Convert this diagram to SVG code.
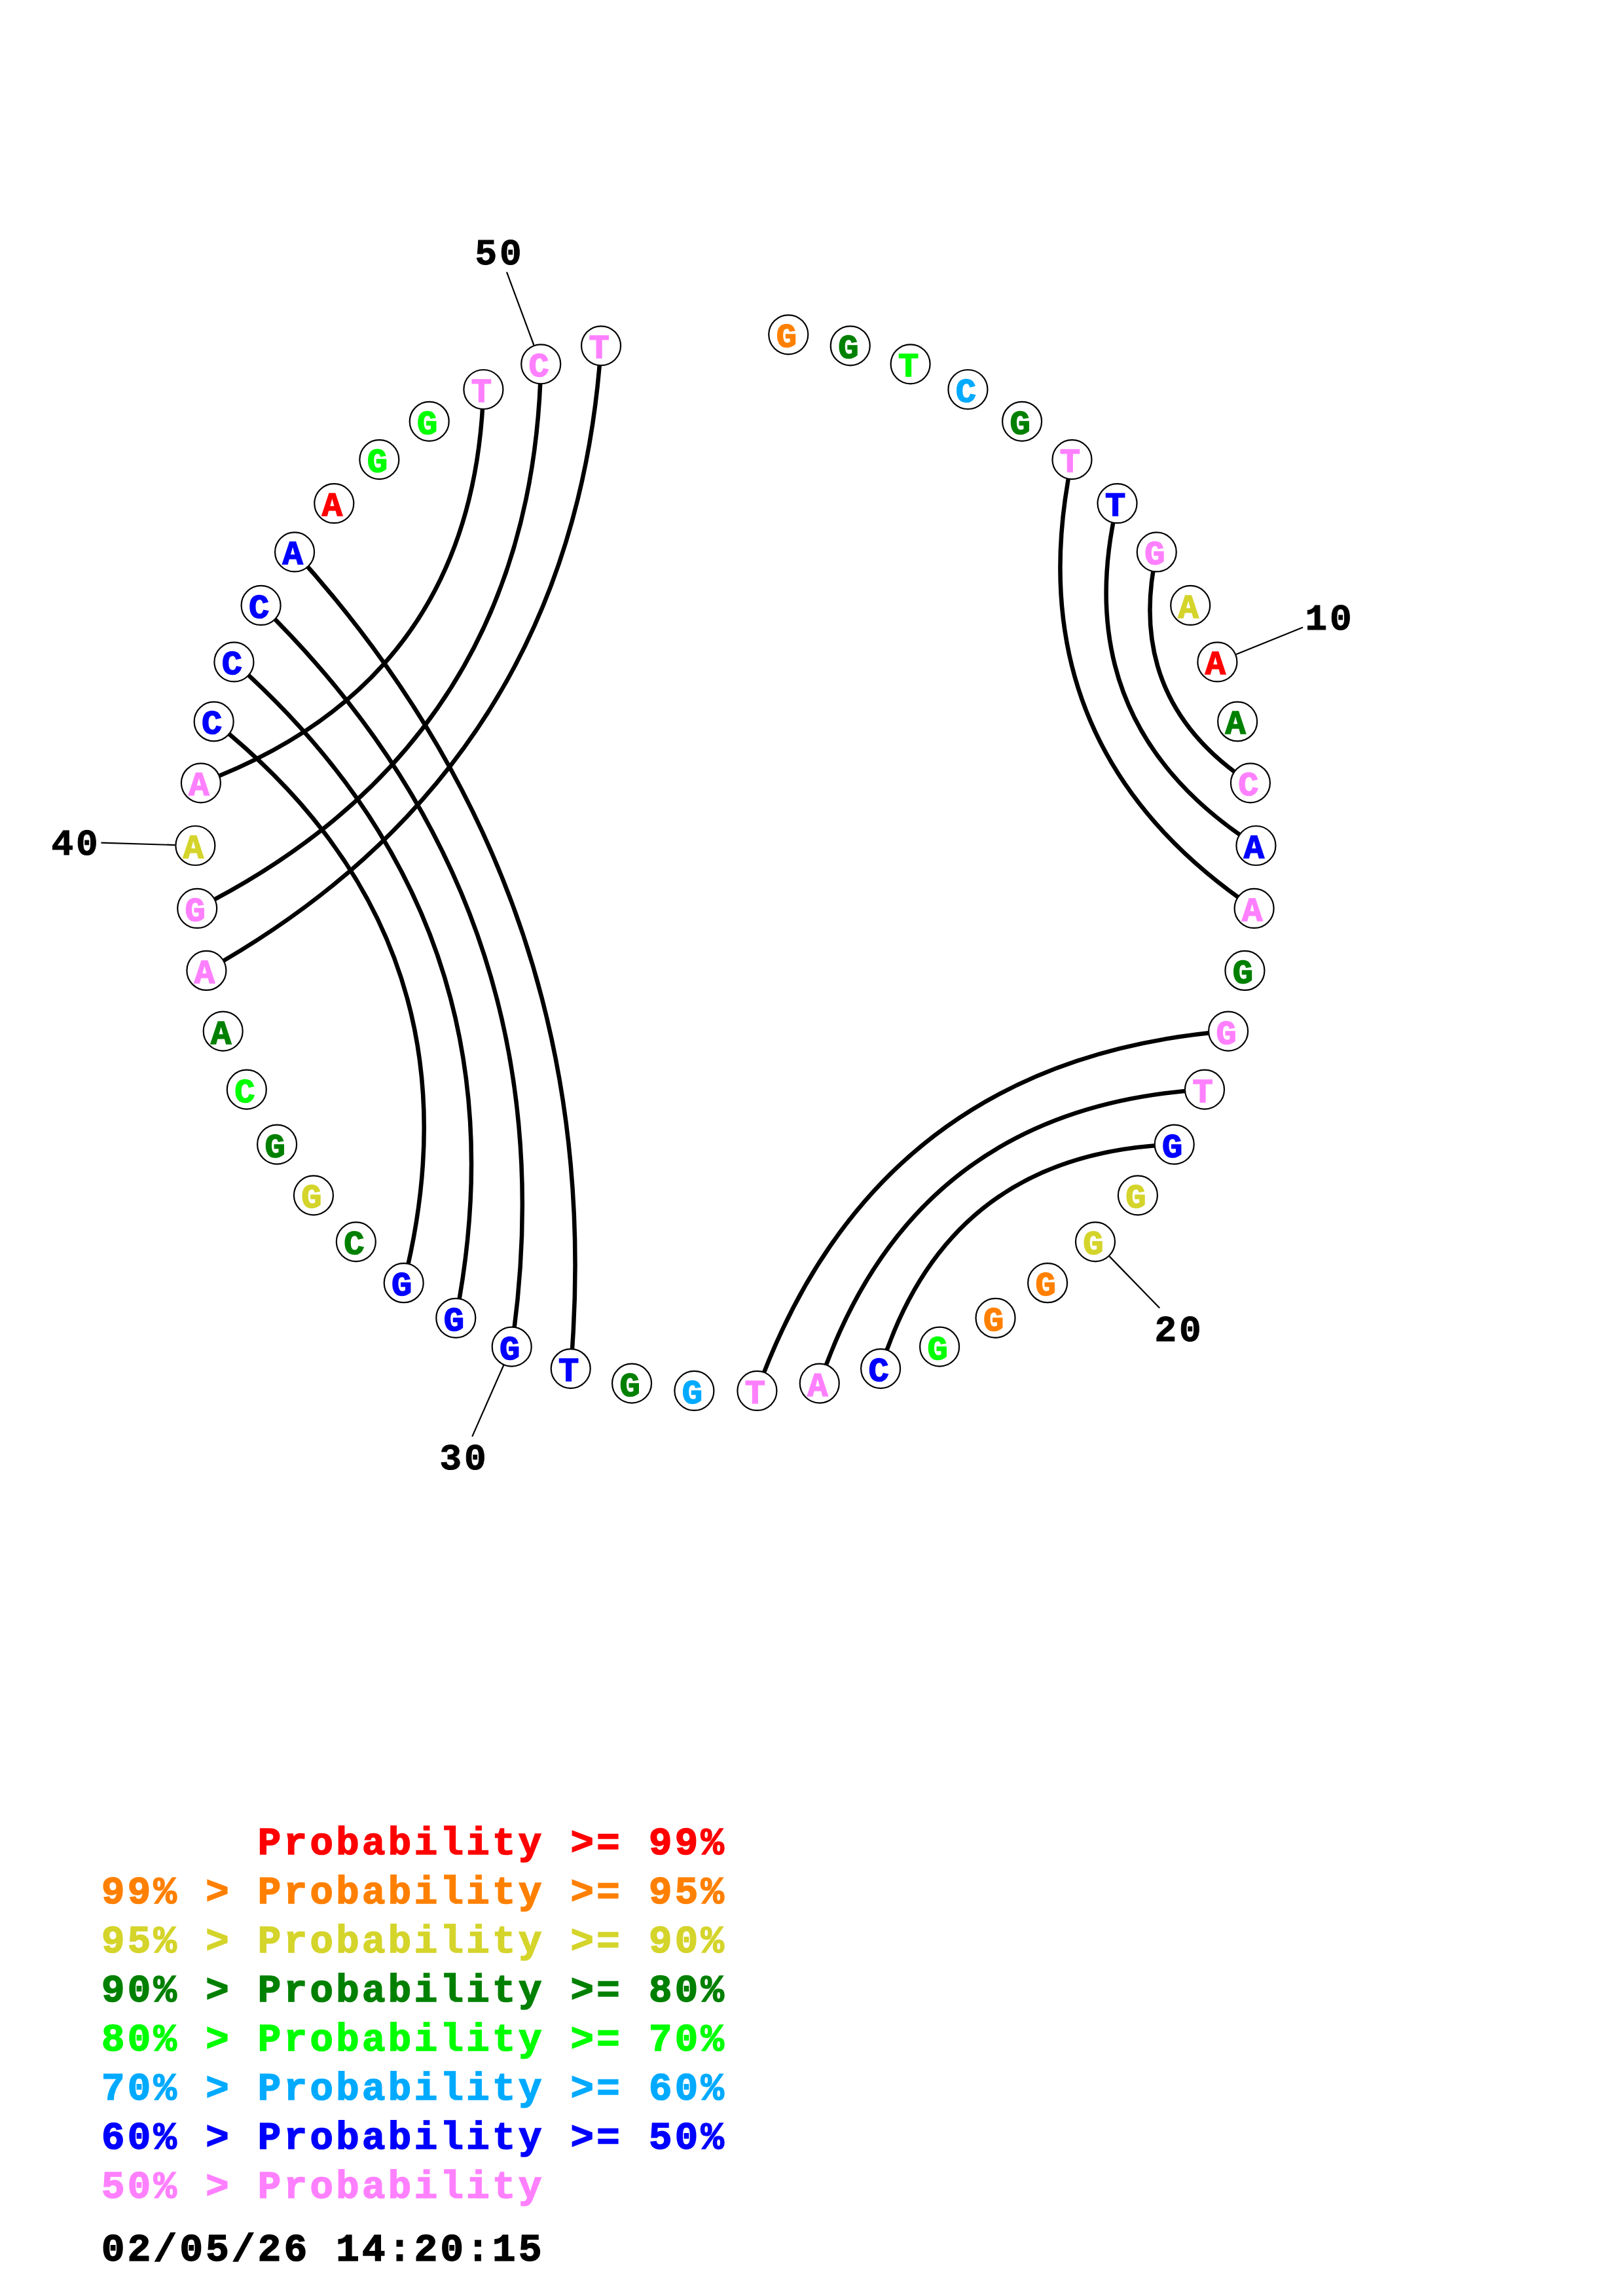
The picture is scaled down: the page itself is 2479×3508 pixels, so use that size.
<svg xmlns="http://www.w3.org/2000/svg" width="2479" height="3508" viewBox="0 0 2479 3508">
<style>
.nt circle{fill:#fff;stroke:#000;stroke-width:2.2}
.nt text{font-family:"Liberation Mono",monospace;font-weight:bold;font-size:52px;text-anchor:middle;stroke-width:1.6}
.pair{fill:none;stroke:#000;stroke-width:6.5}
.tick{stroke:#000;stroke-width:2.2}
.lbl{font-family:"Liberation Mono",monospace;font-weight:bold;font-size:56px;text-anchor:middle;letter-spacing:4px;stroke:#000;stroke-width:1}
.leg{font-family:"Liberation Mono",monospace;font-weight:bold;font-size:59px;letter-spacing:4.4px;stroke-width:1.6}
.r{fill:#ff0000;stroke:#ff0000}.o{fill:#ff8000;stroke:#ff8000}.y{fill:#d4d42b;stroke:#d4d42b}.dg{fill:#008000;stroke:#008000}.g{fill:#00ff00;stroke:#00ff00}.lb{fill:#00aaff;stroke:#00aaff}.b{fill:#0000ff;stroke:#0000ff}.p{fill:#ff80ff;stroke:#ff80ff}.k{fill:#000;stroke:#000}
</style>
<rect width="2479" height="3508" fill="#fff"/>
<g id="connectors">
<path class="pair" d="M1637.46,702.13 Q1546.26,1138.43 1915.60,1387.96"/>
<path class="pair" d="M1706.52,769.20 Q1627.35,1105.54 1918.44,1291.99"/>
<path class="pair" d="M1766.75,843.45 Q1716.68,1069.31 1909.92,1196.35"/>
<path class="pair" d="M1876.12,1575.54 Q1339.51,1618.77 1156.41,2124.97"/>
<path class="pair" d="M1839.99,1664.63 Q1395.09,1691.59 1251.75,2113.62"/>
<path class="pair" d="M1793.71,1748.56 Q1448.18,1761.14 1345.09,2091.07"/>
<path class="pair" d="M871.71,2091.07 Q932.57,1375.44 450.05,843.45"/>
<path class="pair" d="M781.70,2057.63 Q878.10,1393.86 398.60,924.94"/>
<path class="pair" d="M696.29,2013.79 Q812.83,1415.92 357.41,1011.44"/>
<path class="pair" d="M616.69,1960.18 Q747.56,1437.99 326.66,1102.39"/>
<path class="pair" d="M306.88,1196.35 Q724.55,1040.48 738.39,595.00"/>
<path class="pair" d="M301.20,1387.96 Q813.71,1129.96 826.22,556.31"/>
<path class="pair" d="M315.38,1482.92 Q875.44,1168.93 918.05,528.28"/>
</g>
<g id="ticks">
<line class="tick" x1="1888.12" y1="999.79" x2="1990.06" y2="958.44"/>
<line class="tick" x1="1694.58" y1="1919.61" x2="1771.21" y2="1998.53"/>
<line class="tick" x1="769.20" y1="2086.00" x2="721.23" y2="2194.90"/>
<line class="tick" x1="267.37" y1="1291.07" x2="154.42" y2="1287.72"/>
<line class="tick" x1="815.42" y1="527.25" x2="773.99" y2="415.70"/>
</g>
<g id="numbers">
<text id="label-10" class="lbl k" x="2031" y="962">10</text>
<text id="label-20" class="lbl k" x="1801" y="2049">20</text>
<text id="label-30" class="lbl k" x="709" y="2245">30</text>
<text id="label-40" class="lbl k" x="116" y="1306">40</text>
<text id="label-50" class="lbl k" x="763" y="404">50</text>
</g>
<g id="nucleotides">
<g id="n1" class="nt" transform="translate(1204.25,511.29)"><circle r="30"/><text class="o" x="-3" y="19">G</text></g>
<g id="n2" class="nt" transform="translate(1298.75,528.28)"><circle r="30"/><text class="dg" x="-3" y="19">G</text></g>
<g id="n3" class="nt" transform="translate(1390.58,556.31)"><circle r="30"/><text class="g" x="-3" y="19">T</text></g>
<g id="n4" class="nt" transform="translate(1478.41,595.00)"><circle r="30"/><text class="lb" x="-3" y="19">C</text></g>
<g id="n5" class="nt" transform="translate(1561.07,643.82)"><circle r="30"/><text class="dg" x="-3" y="19">G</text></g>
<g id="n6" class="nt" transform="translate(1637.46,702.13)"><circle r="30"/><text class="p" x="-3" y="19">T</text></g>
<g id="n7" class="nt" transform="translate(1706.52,769.20)"><circle r="30"/><text class="b" x="-3" y="19">T</text></g>
<g id="n8" class="nt" transform="translate(1766.75,843.45)"><circle r="30"/><text class="p" x="-3" y="19">G</text></g>
<g id="n9" class="nt" transform="translate(1818.20,924.94)"><circle r="30"/><text class="y" x="-3" y="19">A</text></g>
<g id="n10" class="nt" transform="translate(1859.39,1011.44)"><circle r="30"/><text class="r" x="-3" y="19">A</text></g>
<g id="n11" class="nt" transform="translate(1890.14,1102.39)"><circle r="30"/><text class="dg" x="-3" y="19">A</text></g>
<g id="n12" class="nt" transform="translate(1909.92,1196.35)"><circle r="30"/><text class="p" x="-3" y="19">C</text></g>
<g id="n13" class="nt" transform="translate(1918.44,1291.99)"><circle r="30"/><text class="b" x="-3" y="19">A</text></g>
<g id="n14" class="nt" transform="translate(1915.60,1387.96)"><circle r="30"/><text class="p" x="-3" y="19">A</text></g>
<g id="n15" class="nt" transform="translate(1901.42,1482.92)"><circle r="30"/><text class="dg" x="-3" y="19">G</text></g>
<g id="n16" class="nt" transform="translate(1876.12,1575.54)"><circle r="30"/><text class="p" x="-3" y="19">G</text></g>
<g id="n17" class="nt" transform="translate(1839.99,1664.63)"><circle r="30"/><text class="p" x="-3" y="19">T</text></g>
<g id="n18" class="nt" transform="translate(1793.71,1748.56)"><circle r="30"/><text class="b" x="-3" y="19">G</text></g>
<g id="n19" class="nt" transform="translate(1737.89,1826.37)"><circle r="30"/><text class="y" x="-3" y="19">G</text></g>
<g id="n20" class="nt" transform="translate(1672.98,1897.37)"><circle r="30"/><text class="y" x="-3" y="19">G</text></g>
<g id="n21" class="nt" transform="translate(1600.11,1960.18)"><circle r="30"/><text class="o" x="-3" y="19">G</text></g>
<g id="n22" class="nt" transform="translate(1520.51,2013.79)"><circle r="30"/><text class="o" x="-3" y="19">G</text></g>
<g id="n23" class="nt" transform="translate(1435.10,2057.63)"><circle r="30"/><text class="g" x="-3" y="19">G</text></g>
<g id="n24" class="nt" transform="translate(1345.09,2091.07)"><circle r="30"/><text class="b" x="-3" y="19">C</text></g>
<g id="n25" class="nt" transform="translate(1251.75,2113.62)"><circle r="30"/><text class="p" x="-3" y="19">A</text></g>
<g id="n26" class="nt" transform="translate(1156.41,2124.97)"><circle r="30"/><text class="p" x="-3" y="19">T</text></g>
<g id="n27" class="nt" transform="translate(1060.39,2124.97)"><circle r="30"/><text class="lb" x="-3" y="19">G</text></g>
<g id="n28" class="nt" transform="translate(965.05,2113.62)"><circle r="30"/><text class="dg" x="-3" y="19">G</text></g>
<g id="n29" class="nt" transform="translate(871.71,2091.07)"><circle r="30"/><text class="b" x="-3" y="19">T</text></g>
<g id="n30" class="nt" transform="translate(781.70,2057.63)"><circle r="30"/><text class="b" x="-3" y="19">G</text></g>
<g id="n31" class="nt" transform="translate(696.29,2013.79)"><circle r="30"/><text class="b" x="-3" y="19">G</text></g>
<g id="n32" class="nt" transform="translate(616.69,1960.18)"><circle r="30"/><text class="b" x="-3" y="19">G</text></g>
<g id="n33" class="nt" transform="translate(543.82,1897.37)"><circle r="30"/><text class="dg" x="-3" y="19">C</text></g>
<g id="n34" class="nt" transform="translate(478.91,1826.37)"><circle r="30"/><text class="y" x="-3" y="19">G</text></g>
<g id="n35" class="nt" transform="translate(423.09,1748.56)"><circle r="30"/><text class="dg" x="-3" y="19">G</text></g>
<g id="n36" class="nt" transform="translate(376.81,1664.63)"><circle r="30"/><text class="g" x="-3" y="19">C</text></g>
<g id="n37" class="nt" transform="translate(340.68,1575.54)"><circle r="30"/><text class="dg" x="-3" y="19">A</text></g>
<g id="n38" class="nt" transform="translate(315.38,1482.92)"><circle r="30"/><text class="p" x="-3" y="19">A</text></g>
<g id="n39" class="nt" transform="translate(301.20,1387.96)"><circle r="30"/><text class="p" x="-3" y="19">G</text></g>
<g id="n40" class="nt" transform="translate(298.36,1291.99)"><circle r="30"/><text class="y" x="-3" y="19">A</text></g>
<g id="n41" class="nt" transform="translate(306.88,1196.35)"><circle r="30"/><text class="p" x="-3" y="19">A</text></g>
<g id="n42" class="nt" transform="translate(326.66,1102.39)"><circle r="30"/><text class="b" x="-3" y="19">C</text></g>
<g id="n43" class="nt" transform="translate(357.41,1011.44)"><circle r="30"/><text class="b" x="-3" y="19">C</text></g>
<g id="n44" class="nt" transform="translate(398.60,924.94)"><circle r="30"/><text class="b" x="-3" y="19">C</text></g>
<g id="n45" class="nt" transform="translate(450.05,843.45)"><circle r="30"/><text class="b" x="-3" y="19">A</text></g>
<g id="n46" class="nt" transform="translate(510.28,769.20)"><circle r="30"/><text class="r" x="-3" y="19">A</text></g>
<g id="n47" class="nt" transform="translate(579.34,702.13)"><circle r="30"/><text class="g" x="-3" y="19">G</text></g>
<g id="n48" class="nt" transform="translate(655.73,643.82)"><circle r="30"/><text class="g" x="-3" y="19">G</text></g>
<g id="n49" class="nt" transform="translate(738.39,595.00)"><circle r="30"/><text class="p" x="-3" y="19">T</text></g>
<g id="n50" class="nt" transform="translate(826.22,556.31)"><circle r="30"/><text class="p" x="-3" y="19">C</text></g>
<g id="n51" class="nt" transform="translate(918.05,528.28)"><circle r="30"/><text class="p" x="-3" y="19">T</text></g>
</g>
<g id="legend">
<text class="leg r" x="393.8" y="2833">Probability &gt;= 99%</text>
<text class="leg o" x="155" y="2908">99% &gt; Probability &gt;= 95%</text>
<text class="leg y" x="155" y="2983">95% &gt; Probability &gt;= 90%</text>
<text class="leg dg" x="155" y="3058">90% &gt; Probability &gt;= 80%</text>
<text class="leg g" x="155" y="3133">80% &gt; Probability &gt;= 70%</text>
<text class="leg lb" x="155" y="3208">70% &gt; Probability &gt;= 60%</text>
<text class="leg b" x="155" y="3283">60% &gt; Probability &gt;= 50%</text>
<text class="leg p" x="155" y="3358">50% &gt; Probability</text>
<text class="leg k" x="155" y="3454">02/05/26 14:20:15</text>
</g>
</svg>
